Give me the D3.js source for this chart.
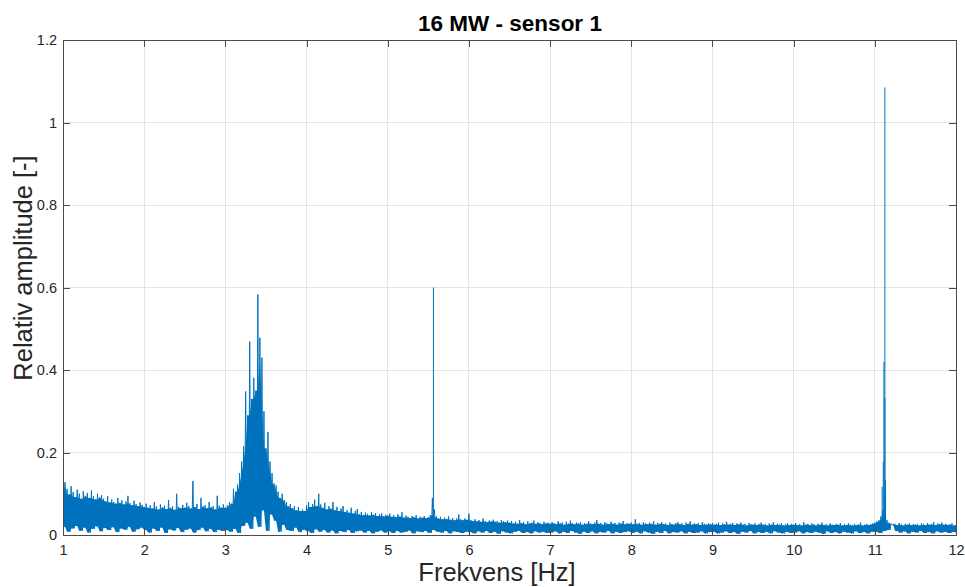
<!DOCTYPE html>
<html><head><meta charset="utf-8">
<script src="https://cdn.jsdelivr.net/npm/d3@7"></script>
<style>body{margin:0;background:#fff}svg{display:block}</style>
</head><body>
<svg id="c" width="965" height="587"></svg>
<script>
const title = "16 MW - sensor 1";
const xLabel = "Frekvens [Hz]";
const yLabel = "Relativ amplitude [-]";
const xTicks = [1,2,3,4,5,6,7,8,9,10,11,12];
const yTicks = [0,0.2,0.4,0.6,0.8,1,1.2];
const yTickLabels = ["0","0.2","0.4","0.6","0.8","1","1.2"];

// spectrum sampled every 0.025 Hz from 1 Hz (local maxima) and every 0.05 Hz (local minima)
const fStart = 1, hiStep = 0.025, loStep = 0.05;
const hiVals = [
0.155,0.128,0.112,0.098,0.118,0.104,0.092,0.110,0.100,0.088,0.106,0.095,0.102,0.090,0.108,0.094,0.086,0.100,0.091,0.097,
0.088,0.082,0.094,0.079,0.086,0.080,0.076,0.090,0.078,0.084,0.074,0.081,0.095,0.077,0.072,0.083,0.075,0.070,0.079,0.073,
0.068,0.076,0.066,0.072,0.064,0.080,0.069,0.062,0.074,0.067,0.071,0.063,0.085,0.066,0.070,0.061,0.100,0.068,0.065,0.073,
0.066,0.078,0.070,0.064,0.131,0.068,0.075,0.063,0.090,0.069,0.072,0.065,0.080,0.067,0.070,0.062,0.095,0.071,0.066,0.074,
0.066,0.072,0.080,0.076,0.112,0.105,0.122,0.150,0.178,0.215,0.348,0.290,0.469,0.330,0.381,0.350,0.583,0.478,0.430,0.300,
0.210,0.250,0.178,0.150,0.125,0.120,0.105,0.090,0.100,0.085,0.080,0.070,0.075,0.065,0.070,0.060,0.068,0.058,0.062,0.058,
0.072,0.080,0.068,0.075,0.086,0.070,0.100,0.074,0.066,0.078,0.062,0.070,0.064,0.080,0.060,0.068,0.058,0.064,0.070,0.056,
0.060,0.054,0.066,0.052,0.058,0.063,0.050,0.056,0.048,0.054,0.051,0.047,0.055,0.049,0.053,0.046,0.050,0.052,0.045,0.049,
0.047,0.052,0.044,0.048,0.043,0.050,0.045,0.055,0.042,0.047,0.044,0.041,0.046,0.043,0.048,0.040,0.044,0.042,0.046,0.041,
0.043,0.048,0.090,0.062,0.045,0.040,0.044,0.038,0.042,0.039,0.045,0.037,0.041,0.036,0.040,0.050,0.038,0.036,0.040,0.037,
0.052,0.036,0.034,0.038,0.033,0.036,0.032,0.040,0.034,0.031,0.035,0.033,0.037,0.032,0.034,0.030,0.036,0.033,0.031,0.035,
0.030,0.034,0.028,0.032,0.027,0.036,0.029,0.031,0.026,0.033,0.028,0.030,0.035,0.027,0.031,0.029,0.026,0.032,0.028,0.030,
0.027,0.031,0.029,0.026,0.033,0.028,0.030,0.025,0.032,0.027,0.035,0.029,0.026,0.030,0.028,0.031,0.025,0.029,0.027,0.033,
0.028,0.026,0.030,0.036,0.027,0.029,0.025,0.031,0.028,0.026,0.032,0.027,0.029,0.025,0.030,0.028,0.034,0.026,0.029,0.027,
0.030,0.026,0.038,0.027,0.029,0.025,0.031,0.028,0.026,0.030,0.027,0.033,0.025,0.029,0.027,0.031,0.026,0.028,0.024,0.030,
0.027,0.025,0.029,0.031,0.026,0.028,0.024,0.030,0.027,0.033,0.025,0.028,0.026,0.029,0.024,0.031,0.027,0.025,0.028,0.026,
0.029,0.025,0.027,0.030,0.024,0.028,0.026,0.032,0.025,0.027,0.029,0.024,0.028,0.026,0.030,0.025,0.027,0.023,0.029,0.026,
0.025,0.028,0.024,0.027,0.030,0.025,0.026,0.023,0.028,0.025,0.031,0.024,0.027,0.025,0.029,0.023,0.026,0.028,0.024,0.027,
0.025,0.029,0.024,0.026,0.023,0.031,0.025,0.027,0.024,0.028,0.026,0.023,0.027,0.025,0.030,0.024,0.026,0.023,0.028,0.025,
0.024,0.027,0.025,0.029,0.023,0.026,0.024,0.028,0.025,0.023,0.027,0.024,0.026,0.030,0.023,0.025,0.027,0.024,0.026,0.028,
0.030,0.033,0.036,0.045,0.060,0.090,0.036,0.030,0.028,0.025,0.027,0.024,0.029,0.026,0.023,0.027,0.025,0.028,0.024,0.026,
0.025,0.027,0.023,0.028,0.026,0.024,0.029,0.025,0.027,0.031,0.024,0.028,0.026,0.030,0.025,0.027,0.024,0.026,0.028,0.023,
0.025
];
const loVals = [
0.020,0.008,0.016,0.022,0.010,0.018,0.006,0.015,0.021,0.009,0.017,0.012,0.019,0.007,0.016,0.013,0.020,0.008,0.014,0.018,
0.012,0.006,0.016,0.010,0.018,0.005,0.014,0.011,0.017,0.007,0.013,0.016,0.006,0.012,0.018,0.009,0.015,0.007,0.013,0.010,
0.012,0.008,0.015,0.005,0.022,0.030,0.015,0.045,0.020,0.060,0.010,0.050,0.035,0.008,0.025,0.012,0.010,0.018,0.007,0.013,
0.010,0.005,0.014,0.008,0.012,0.006,0.011,0.004,0.010,0.007,0.012,0.005,0.009,0.011,0.006,0.010,0.004,0.008,0.011,0.006,
0.009,0.005,0.010,0.006,0.008,0.011,0.004,0.009,0.007,0.010,0.005,0.012,0.008,0.006,0.010,0.004,0.009,0.007,0.005,0.008,
0.007,0.004,0.009,0.006,0.010,0.005,0.008,0.003,0.009,0.006,0.004,0.008,0.010,0.005,0.007,0.004,0.009,0.006,0.008,0.005,
0.006,0.009,0.004,0.008,0.005,0.010,0.006,0.003,0.008,0.005,0.009,0.004,0.007,0.006,0.010,0.004,0.008,0.005,0.007,0.009,
0.005,0.008,0.004,0.009,0.006,0.003,0.008,0.005,0.010,0.004,0.007,0.006,0.009,0.004,0.008,0.005,0.006,0.009,0.004,0.007,
0.008,0.004,0.006,0.009,0.005,0.007,0.003,0.008,0.006,0.010,0.004,0.007,0.005,0.008,0.004,0.009,0.006,0.004,0.008,0.005,
0.006,0.009,0.004,0.007,0.005,0.008,0.006,0.003,0.009,0.005,0.007,0.004,0.008,0.006,0.004,0.009,0.005,0.007,0.004,0.008,
0.008,0.005,0.010,0.012,0.025,0.010,0.006,0.009,0.004,0.008,0.006,0.010,0.005,0.007,0.004,0.009,0.006,0.008,0.005,0.007,
0.006
];
// narrow tonal peaks
const toneFreq = [5.563, 11.090, 11.104, 11.112, 11.124, 11.132, 11.124];
const toneVal  = [0.600, 0.117, 0.178, 0.420, 0.332, 0.133, 1.085];

const svg = d3.select("#c");
const L = 63, R = 956, T = 40, B = 535;
const x = d3.scaleLinear().domain([1, 12]).range([L, R]);
const y = d3.scaleLinear().domain([0, 1.2]).range([B, T]);
const font = "'Liberation Sans', Arial, Helvetica, sans-serif";
const ink = "#262626";
const blue = "#0072BD";

// grid
const g = svg.append("g").attr("shape-rendering", "crispEdges");
g.selectAll(".gx").data(xTicks.slice(1, -1)).enter().append("line")
  .attr("x1", d => x(d)).attr("x2", d => x(d)).attr("y1", T).attr("y2", B)
  .attr("stroke", "#e3e3e3").attr("stroke-width", 1);
g.selectAll(".gy").data(yTicks.slice(1, -1)).enter().append("line")
  .attr("x1", L).attr("x2", R).attr("y1", d => y(d)).attr("y2", d => y(d))
  .attr("stroke", "#e3e3e3").attr("stroke-width", 1);

// data
svg.append("clipPath").attr("id", "clip").append("rect")
  .attr("x", L).attr("y", T).attr("width", R - L).attr("height", B - T);
const pts = [];
hiVals.forEach((v, i) => {
  const f = fStart + i * hiStep;
  pts.push([f, v]);
  if (i < hiVals.length - 1) pts.push([f + hiStep / 2, loVals[Math.floor(i / 2)]]);
});
// dense core: lower of each local max and its neighbours
const core = hiVals.map((v, i) => ({
  f: fStart + i * hiStep,
  top: Math.min(v, hiVals[Math.max(0, i - 1)], hiVals[Math.min(hiVals.length - 1, i + 1)]),
  bot: loVals[Math.floor(i / 2)]
}));
const line = d3.line().x(d => x(d[0])).y(d => y(d[1]));
const area = d3.area().x(d => x(d.f)).y0(d => y(d.bot)).y1(d => y(d.top));
const dg = svg.append("g").attr("clip-path", "url(#clip)");
dg.append("path").datum(core).attr("d", area).attr("fill", blue);
dg.append("path").datum(pts).attr("d", line)
  .attr("fill", "none").attr("stroke", blue).attr("stroke-width", 1)
  .attr("stroke-linejoin", "round");
dg.selectAll(".tone").data(toneFreq.map((f, i) => [f, toneVal[i]])).enter().append("path")
  .attr("d", d => line([[d[0], 0.02], [d[0], d[1]]]))
  .attr("fill", "none").attr("stroke", blue).attr("stroke-width", 1);

// axes
const ax = svg.append("g");
const xb = ax.append("g").attr("transform", `translate(0,${B})`)
  .call(d3.axisBottom(x).tickValues(xTicks).tickFormat(d3.format("d")).tickSizeInner(-7).tickSizeOuter(0).tickPadding(10));
const xt = ax.append("g").attr("transform", `translate(0,${T})`)
  .call(d3.axisTop(x).tickValues(xTicks).tickFormat("").tickSizeInner(-7).tickSizeOuter(0));
const yl = ax.append("g").attr("transform", `translate(${L},0)`)
  .call(d3.axisLeft(y).tickValues(yTicks).tickFormat((d, i) => yTickLabels[i]).tickSizeInner(-7).tickSizeOuter(0).tickPadding(6));
const yr = ax.append("g").attr("transform", `translate(${R},0)`)
  .call(d3.axisRight(y).tickValues(yTicks).tickFormat("").tickSizeInner(-7).tickSizeOuter(0));
[xb, xt, yl, yr].forEach(a => {
  a.select(".domain").attr("stroke", "#4a4a4a").attr("shape-rendering", "crispEdges");
  a.selectAll(".tick line").attr("stroke", "#4a4a4a").attr("shape-rendering", "crispEdges");
  a.selectAll("text").attr("fill", ink).attr("font-family", font).attr("font-size", 14.5);
});

// labels
svg.append("text").attr("x", 510).attr("y", 31).attr("text-anchor", "middle")
  .attr("font-family", font).attr("font-size", 22.5).attr("font-weight", "bold").attr("fill", "#000")
  .text(title);
svg.append("text").attr("x", 497).attr("y", 581).attr("text-anchor", "middle")
  .attr("font-family", font).attr("font-size", 25.5).attr("fill", ink).text(xLabel);
svg.append("text").attr("transform", `translate(32,268) rotate(-90)`).attr("text-anchor", "middle")
  .attr("font-family", font).attr("font-size", 25.5).attr("fill", ink).text(yLabel);
</script>
</body></html>
